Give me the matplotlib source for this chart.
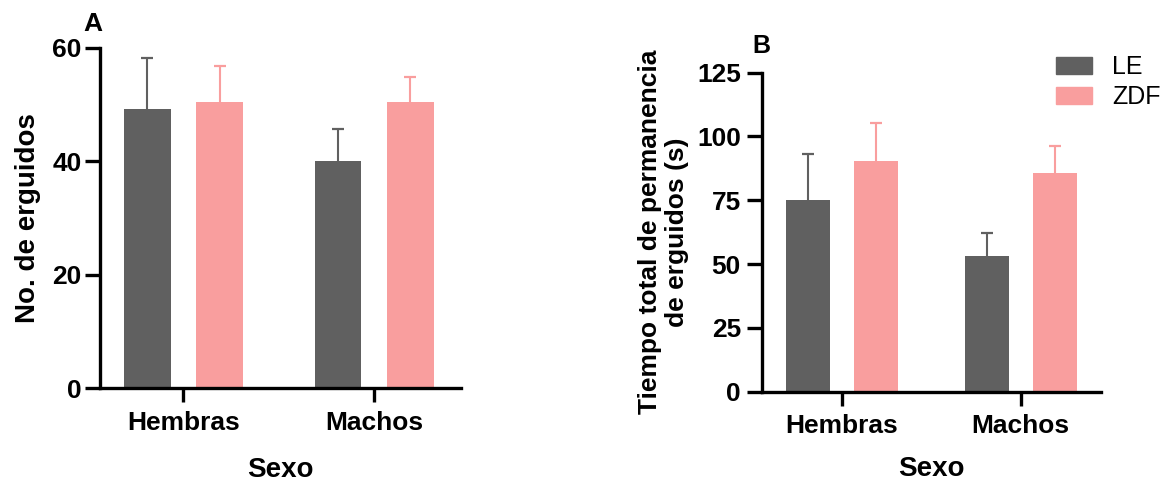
import numpy as np
import matplotlib
matplotlib.use("Agg")
import matplotlib.pyplot as plt

plt.rcParams['font.family'] = ['Liberation Sans', 'DejaVu Sans']

# data
categories = ['Hembras', 'Machos']
groups = ['LE', 'ZDF']
colors = ['#606060', '#f99e9e']

erguidos_mean = {'LE': [49.2, 40.1], 'ZDF': [50.5, 50.5]}
erguidos_err = {'LE': [9.0, 5.5], 'ZDF': [6.3, 4.4]}

tiempo_mean = {'LE': [75.3, 53.3], 'ZDF': [90.4, 85.7]}
tiempo_err = {'LE': [17.7, 8.9], 'ZDF': [14.8, 10.7]}


def style_axis(ax, ylim, yticks, ypad):
    for s in ['top', 'right']:
        ax.spines[s].set_visible(False)
    for s in ['left', 'bottom']:
        ax.spines[s].set_linewidth(2.4)
    ax.spines['bottom'].set_capstyle('projecting')
    ax.set_ylim(*ylim)
    ax.set_yticks(yticks)
    ax.tick_params(axis='y', length=11, width=2.4, labelsize=19, pad=ypad)
    ax.tick_params(axis='x', length=10, width=2.4, labelsize=19, pad=6)
    for lab in ax.get_xticklabels() + ax.get_yticklabels():
        lab.set_fontweight('bold')


def draw_panel(ax, means, errs, offset, width):
    x = np.arange(len(categories))
    for i, g in enumerate(groups):
        pos = x + (i - 0.5) * 2 * offset
        m = np.array(means[g])
        top = m + np.array(errs[g])
        # upper error bar only, drawn behind the bar
        ax.vlines(pos, m, top, color=colors[i], linewidth=1.5, zorder=1)
        ax.plot(pos, top, linestyle='none', marker='_', markersize=9,
                markeredgewidth=1.6, color=colors[i], zorder=1)
        ax.bar(pos, m, width, color=colors[i], zorder=2)
    ax.set_xticks(x)
    ax.set_xticklabels(categories)


fig = plt.figure(figsize=(11.64, 4.82), dpi=100)

axA = fig.add_axes([0.0855, 0.1944, 0.3105, 0.7066])
draw_panel(axA, erguidos_mean, erguidos_err, 0.19, 0.245)
axA.set_xlim(-0.44, 1.455)
style_axis(axA, (0, 60), [0, 20, 40, 60], 2)
axA.set_ylabel('No. de erguidos', fontsize=20, fontweight='bold', labelpad=8)
axA.set_xlabel('Sexo', fontsize=20, fontweight='bold', labelpad=16)
fig.text(0.0795, 0.95, 'A', fontsize=19, fontweight='bold', ha='center', va='center')

axB = fig.add_axes([0.6544, 0.1873, 0.2915, 0.6619])
draw_panel(axB, tiempo_mean, tiempo_err, 0.19, 0.245)
axB.set_xlim(-0.447, 1.449)
style_axis(axB, (0, 125), [0, 25, 50, 75, 100, 125], 4)
axB.set_ylabel('Tiempo total de permanencia\nde erguidos (s)', fontsize=19,
               fontweight='bold', labelpad=6, linespacing=1.15)
axB.set_xlabel('Sexo', fontsize=20, fontweight='bold', labelpad=13)
fig.text(0.654, 0.905, 'B', fontsize=18, fontweight='bold', ha='center', va='center')

handles = [plt.Rectangle((0, 0), 1, 1, color=c) for c in colors]
fig.legend(handles, groups, loc='upper left', bbox_to_anchor=(1056 / 1164, 1 - 55 / 482),
           frameon=False, fontsize=18, handlelength=1.44, handleheight=0.68,
           handletextpad=0.8, labelspacing=0.25, borderaxespad=0, borderpad=0)

fig.savefig('out.png', dpi=100, facecolor='white')
